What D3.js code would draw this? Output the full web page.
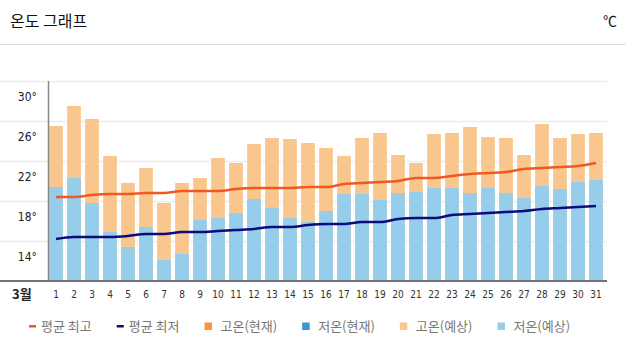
<!DOCTYPE html>
<html><head><meta charset="utf-8">
<script src="https://cdn.jsdelivr.net/npm/d3@7/dist/d3.min.js"></script>
<style>
html,body{margin:0;padding:0;background:#fff;}
svg{display:block;}
</style></head>
<body>
<svg id="chart" width="626" height="353"></svg>
<script>
const days = d3.range(1, 32).map(String);
const highForecast = [27.1,29.1,27.8,24.1,21.4,22.9,19.4,21.4,21.9,23.9,23.4,25.3,25.9,25.8,25.4,24.9,24.1,25.9,26.4,24.2,23.4,26.3,26.4,27.0,26.0,25.9,24.2,27.3,25.9,26.3,26.4];
const lowForecast = [21.0,21.9,19.4,16.5,15.0,17.0,13.7,14.3,17.7,17.9,18.4,19.8,18.9,17.9,17.5,18.6,20.3,20.3,19.7,20.4,20.5,20.9,20.9,20.4,20.9,20.4,19.9,21.1,20.8,21.5,21.7];
const avgHigh = [20.0,20.0,20.2,20.3,20.3,20.4,20.4,20.6,20.6,20.6,20.8,20.9,20.9,20.9,21.0,21.0,21.3,21.4,21.5,21.6,21.9,21.9,22.1,22.3,22.4,22.5,22.8,22.9,23.0,23.1,23.4];
const avgLow = [15.8,16.0,16.0,16.0,16.1,16.3,16.3,16.5,16.5,16.6,16.7,16.8,17.0,17.0,17.2,17.3,17.3,17.5,17.5,17.8,17.9,17.9,18.2,18.3,18.4,18.5,18.6,18.8,18.9,19.0,19.1];
const yTicks = [14, 18, 22, 26, 30];
const monthLabel = "3월";
const title = "온도 그래프";
const unit = "℃";
const legendItems = [
  {label: "평균 최고", type: "line", color: "#ee5a22"},
  {label: "평균 최저", type: "line", color: "#0b0b7e"},
  {label: "고온(현재)", type: "rect", color: "#f7943e"},
  {label: "저온(현재)", type: "rect", color: "#3398d2"},
  {label: "고온(예상)", type: "rect", color: "#f9c68e"},
  {label: "저온(예상)", type: "rect", color: "#96cdea"}
];

const svg = d3.select("#chart");
const KR = "'Noto Sans CJK KR', 'Noto Sans', sans-serif";
const NUM = "'Liberation Sans Narrow', 'DejaVu Sans Condensed', 'Liberation Sans', sans-serif";

// header
svg.append("text").attr("x", 10).attr("y", 27).attr("font-family", KR)
  .attr("font-size", 16).attr("fill", "#111").text(title);
svg.append("text").attr("x", 617).attr("y", 26).attr("text-anchor", "end")
  .attr("font-family", KR).attr("font-size", 14).attr("fill", "#111").text(unit);
svg.append("line").attr("x1", 0).attr("x2", 626).attr("y1", 44.5).attr("y2", 44.5)
  .attr("stroke", "#dcdcdc").attr("stroke-width", 1);

const x = d3.scaleBand().domain(days).range([47, 605]).paddingInner(0.24).paddingOuter(0.12);
const y = d3.scaleLinear().domain([11.6, 31.6]).range([281, 81]);
const labelShift = 16; // gridlines sit 16px above the label positions

// gridlines
const gridY = [y(yTicks[yTicks.length - 1]) - labelShift, ...yTicks.map(t => y(t) - labelShift)];
svg.append("g").selectAll("line").data(yTicks).join("line")
  .attr("x1", 0).attr("x2", 607)
  .attr("y1", d => y(d) - labelShift + 0.5).attr("y2", d => y(d) - labelShift + 0.5)
  .attr("stroke", "#ececec").attr("stroke-width", 1.5);

// y labels
svg.append("g").selectAll("text").data(yTicks).join("text")
  .attr("x", 37).attr("y", d => y(d)).attr("dy", "0.35em").attr("text-anchor", "end")
  .attr("font-family", NUM).attr("font-size", 12).attr("fill", "#222")
  .text(d => d + "°");

// bars
const bars = svg.append("g");
bars.selectAll("rect.hi").data(days).join("rect").attr("class", "hi")
  .attr("x", d => x(d)).attr("width", x.bandwidth())
  .attr("y", (d, i) => y(highForecast[i])).attr("height", (d, i) => y.range()[0] - y(highForecast[i]))
  .attr("fill", "#f9c68e");
bars.selectAll("rect.lo").data(days).join("rect").attr("class", "lo")
  .attr("x", d => x(d)).attr("width", x.bandwidth())
  .attr("y", (d, i) => y(lowForecast[i])).attr("height", (d, i) => y.range()[0] - y(lowForecast[i]))
  .attr("fill", "#96cdea");

// lines
const cx = d => x(d) + x.bandwidth() / 2;
const lineGen = arr => d3.line().x(d => cx(d)).y((d, i) => y(arr[i])).curve(d3.curveMonotoneX)(days);
svg.append("path").attr("d", lineGen(avgHigh)).attr("fill", "none")
  .attr("stroke", "#ee5a22").attr("stroke-width", 2.5);
svg.append("path").attr("d", lineGen(avgLow)).attr("fill", "none")
  .attr("stroke", "#0b0b7e").attr("stroke-width", 2.5);

// axes lines
svg.append("line").attr("x1", 48.5).attr("x2", 48.5).attr("y1", 81).attr("y2", 281)
  .attr("stroke", "#888").attr("stroke-width", 1.5);
svg.append("line").attr("x1", 0).attr("x2", 607).attr("y1", 281).attr("y2", 281)
  .attr("stroke", "#6f7479").attr("stroke-width", 2);

// x labels
svg.append("text").attr("x", 12).attr("y", 294).attr("dy", "0.35em")
  .attr("font-family", KR).attr("font-size", 13).attr("font-weight", "bold").attr("fill", "#222")
  .text(monthLabel);
svg.append("g").selectAll("text").data(days).join("text")
  .attr("x", d => cx(d)).attr("y", 294).attr("dy", "0.35em").attr("text-anchor", "middle")
  .attr("font-family", NUM).attr("font-size", 10).attr("fill", "#333").text(d => d);

// legend
const lg = svg.append("g");
let lx = 29;
const ly = 326;
legendItems.forEach(it => {
  const g = lg.append("g");
  let tx;
  if (it.type === "line") {
    g.append("rect").attr("x", lx).attr("y", ly - 1).attr("width", 7).attr("height", 2.5).attr("fill", it.color);
    tx = lx + 12;
  } else {
    g.append("rect").attr("x", lx).attr("y", ly - 3.5).attr("width", 7.5).attr("height", 7.5).attr("fill", it.color);
    tx = lx + 16;
  }
  const t = g.append("text").attr("x", tx).attr("y", ly).attr("dy", "0.35em")
    .attr("font-family", KR).attr("font-size", 13).attr("fill", "#777").text(it.label);
  lx = tx + t.node().getComputedTextLength() + 25;
});
</script>
</body></html>
